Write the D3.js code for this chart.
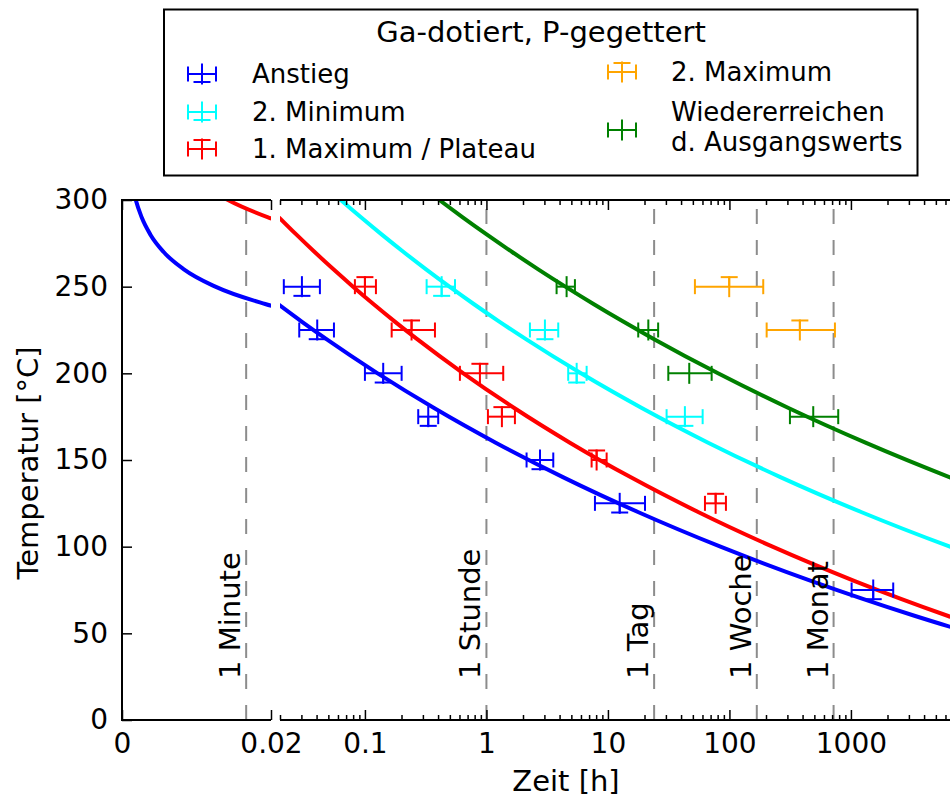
<!DOCTYPE html>
<html>
<head>
<meta charset="utf-8">
<script src="https://cdn.jsdelivr.net/npm/d3@7/dist/d3.min.js"></script>
<style>
  body { margin: 0; background: #fff; }
  svg text { font-family: "DejaVu Sans", sans-serif; fill: #000; }
</style>
</head>
<body>
<svg id="chart" width="950" height="799"></svg>
<script>
// ---- Messpunkte: Temperatur [°C], Zeit [h] (Mitte, untere/obere Grenze) ----
const anstiegT    = [250, 225, 200, 175, 150, 125, 75];
const anstiegH    = [0.0303, 0.0405, 0.1414, 0.332, 2.76, 12.5, 1526];
const anstiegHmin = [0.0215, 0.0288, 0.100, 0.2746, 2.14, 7.82, 1013];
const anstiegHmax = [0.0426, 0.0556, 0.2005, 0.401, 3.55, 20.2, 2229];

const min2T    = [250, 225, 200, 175];
const min2H    = [0.428, 3.03, 5.53, 43.0];
const min2Hmin = [0.322, 2.28, 4.71, 30.4];
const min2Hmax = [0.551, 3.90, 6.68, 60.2];

const max1T    = [250, 225, 200, 175, 150, 125];
const max1H    = [0.100, 0.242, 0.884, 1.341, 8.07, 77.0];
const max1Hmin = [0.0827, 0.166, 0.605, 1.029, 7.34, 62.9];
const max1Hmax = [0.1232, 0.377, 1.375, 1.716, 9.76, 93.6];

const max2T    = [250, 225];
const max2H    = [99.6, 380];
const max2Hmin = [52.0, 202.5];
const max2Hmax = [189.8, 738.6];

const rueckT    = [250, 225, 200, 175];
const rueckH    = [4.57, 21.5, 46.7, 489.6];
const rueckHmin = [3.78, 17.76, 31.4, 314.8];
const rueckHmax = [5.35, 25.9, 71.4, 786];

// Temperaturfehler [°C] nach unten / oben
const tempErrDown = [5.3, 5.3, 0, 0, 0];
const tempErrUp   = [0, 0, 5.5, 5.5, 0];

// ---- Angepasste Kurven: Temperatur [°C] -> Zeit [h] ----
const curveT = [310, 300, 290, 280, 270, 260, 250, 240, 230, 220, 200, 180, 160, 140, 120, 100, 80, 60, 40];
const anstiegCurveH = [0.001313, 0.001851, 0.002640, 0.003816, 0.005590, 0.008307, 0.01253, 0.01922, 0.02997,
                       0.04758, 0.1272, 0.3707, 1.193, 4.300, 17.66, 84.37, 481.3, 3382, 30510];
const max1CurveH    = [0.01044, 0.01423, 0.01961, 0.02733, 0.03856, 0.05510, 0.07987, 0.1174, 0.1753,
                       0.2659, 0.6455, 1.694, 4.863, 15.45, 55.24, 226.3, 1088, 6316, 45890];
const min2CurveH    = [0.04377, 0.06331, 0.09281, 0.1379, 0.2081, 0.3187, 0.4962, 0.7857, 1.267,
                       2.084, 6.002, 18.99, 66.80, 265.4, 1213, 6529, 42510];
const rueckCurveH   = [0.2667, 0.4096, 0.6383, 1.011, 1.628, 2.670, 4.462, 7.606, 13.25,
                       23.60, 80.53, 306.3, 1318, 6531, 38100];

// ---- Zeitmarken ----
const markLabels = ["1 Minute", "1 Stunde", "1 Tag", "1 Woche", "1 Monat"];
const markHours  = [1 / 60, 1, 24, 168, 720];

// ---- Achsenbeschriftung ----
const yTicks = [0, 50, 100, 150, 200, 250, 300];
const linTicks = [0, 0.02];
const linTickLabels = ["0", "0.02"];
const logTicks = [0.1, 1, 10, 100, 1000];
const logTickLabels = ["0.1", "1", "10", "100", "1000"];

const seriesNames  = ["Anstieg", "2. Minimum", "1. Maximum / Plateau", "2. Maximum", "Wiedererreichen|d. Ausgangswerts"];
const seriesColors = ["#0000ff", "#00ffff", "#ff0000", "#ffa500", "#008000"];

// ---------------------------------------------------------------
const svg = d3.select("#chart");
svg.append("rect").attr("width", 950).attr("height", 799).attr("fill", "#fff");

const plotTop = 200, plotBottom = 720, plotLeft = 122, breakL = 271, breakR = 280;
const y = d3.scaleLinear().domain([0, 300]).range([plotBottom, plotTop]);
const xLin = d3.scaleLinear().domain([0, 0.02]).range([plotLeft, breakL]);
const xLog = d3.scaleLog().domain([0.02, 10000]).range([breakR, breakR + 121.5 * Math.log10(10000 / 0.02)]);

const defs = svg.append("defs");
defs.append("clipPath").attr("id", "clipL").append("rect")
  .attr("x", plotLeft).attr("y", plotTop).attr("width", breakL - plotLeft).attr("height", plotBottom - plotTop);
defs.append("clipPath").attr("id", "clipR").append("rect")
  .attr("x", breakR).attr("y", plotTop).attr("width", 720).attr("height", plotBottom - plotTop);

const gL = svg.append("g").attr("clip-path", "url(#clipL)");
const gR = svg.append("g").attr("clip-path", "url(#clipR)");

// dashed time markers
markHours.forEach((h, i) => {
  const isLeft = h < 0.02;
  const xp = isLeft ? xLin(h) : xLog(h);
  (isLeft ? gL : gR).append("line")
    .attr("x1", xp).attr("x2", xp).attr("y1", plotBottom).attr("y2", plotTop)
    .attr("stroke", "#8c8c8c").attr("stroke-width", 2)
    .attr("stroke-dasharray", "15,16");
  svg.append("text")
    .attr("transform", `translate(${xp - 6},679) rotate(-90)`)
    .attr("font-size", 29)
    .text(markLabels[i]);
});

// fitted curves
const curves = [
  {h: anstiegCurveH, c: seriesColors[0]},
  {h: min2CurveH, c: seriesColors[1]},
  {h: max1CurveH, c: seriesColors[2]},
  {h: rueckCurveH, c: seriesColors[4]}
];
curves.forEach(cv => {
  const pts = cv.h.map((h, i) => ({h, t: curveT[i]}));
  const firstOver = pts.findIndex(p => p.h > 0.02);
  const leftPts = firstOver > 0 ? pts.slice(0, firstOver + 1) : [];
  const rightPts = pts.slice(Math.max(0, firstOver - 1));
  if (leftPts.length > 1) {
    gL.append("path")
      .attr("d", d3.line().x(p => xLin(p.h)).y(p => y(p.t)).curve(d3.curveMonotoneX)(leftPts))
      .attr("fill", "none").attr("stroke", cv.c).attr("stroke-width", 4);
  }
  gR.append("path")
    .attr("d", d3.line().x(p => xLog(p.h)).y(p => y(p.t)).curve(d3.curveMonotoneX)(rightPts))
    .attr("fill", "none").attr("stroke", cv.c).attr("stroke-width", 4);
});

// error bar glyph
const CAP = 7.5, PLUS = 10.5;
function glyph(g, cx, cy, x0, x1, yDown, yUp, color) {
  const seg = (a, b, c, d) => g.append("line")
    .attr("x1", a).attr("y1", b).attr("x2", c).attr("y2", d)
    .attr("stroke", color).attr("stroke-width", 2);
  seg(x0, cy, x1, cy);
  seg(x0, cy - CAP, x0, cy + CAP);
  seg(x1, cy - CAP, x1, cy + CAP);
  seg(cx, cy - PLUS, cx, cy + PLUS);
  if (yDown !== cy) { seg(cx, cy, cx, yDown); seg(cx - 8.5, yDown, cx + 8.5, yDown); }
  if (yUp !== cy) { seg(cx, cy, cx, yUp); seg(cx - 8.5, yUp, cx + 8.5, yUp); }
}

const pointSets = [
  [anstiegT, anstiegH, anstiegHmin, anstiegHmax],
  [min2T, min2H, min2Hmin, min2Hmax],
  [max1T, max1H, max1Hmin, max1Hmax],
  [max2T, max2H, max2Hmin, max2Hmax],
  [rueckT, rueckH, rueckHmin, rueckHmax]
];
const gP = svg.append("g").attr("clip-path", "url(#clipR)");
pointSets.forEach((ps, si) => {
  const [T, H, Hmin, Hmax] = ps;
  T.forEach((t, i) => {
    glyph(gP, xLog(H[i]), y(t), xLog(Hmin[i]), xLog(Hmax[i]),
      y(t - tempErrDown[si]), y(t + tempErrUp[si]), seriesColors[si]);
  });
});

// ---- spines and ticks ----
const axisG = svg.append("g");
const spine = (a, b, c, d) => axisG.append("line")
  .attr("x1", a).attr("y1", b).attr("x2", c).attr("y2", d)
  .attr("stroke", "#000").attr("stroke-width", 2);
spine(plotLeft, plotBottom, breakL, plotBottom);
spine(breakR, plotBottom, 960, plotBottom);
spine(plotLeft, plotTop, breakL, plotTop);
spine(breakR, plotTop, 960, plotTop);
spine(plotLeft, plotTop - 1, plotLeft, plotBottom + 1);

function styleAxis(sel) {
  sel.select(".domain").remove();
  sel.selectAll(".tick line").attr("stroke", "#000").attr("stroke-width", 1.5);
  sel.selectAll(".tick text").attr("font-size", 28).attr("font-family", "DejaVu Sans, sans-serif");
}

// bottom axes
axisG.append("g").attr("transform", `translate(0,${plotBottom})`)
  .call(d3.axisBottom(xLin).tickValues(linTicks).tickSize(-10).tickPadding(13)
    .tickFormat((d, i) => linTickLabels[i]))
  .call(styleAxis);
axisG.append("g").attr("transform", `translate(0,${plotBottom})`)
  .call(d3.axisBottom(xLog).tickValues(logTicks).tickSize(-10).tickPadding(13)
    .tickFormat((d, i) => logTickLabels[i]))
  .call(styleAxis);
const minorLog = xLog.ticks().filter(v => !logTicks.some(m => Math.abs(m - v) < 1e-9) && v < 10000);
axisG.append("g").attr("transform", `translate(0,${plotBottom})`)
  .call(d3.axisBottom(xLog).tickValues(minorLog).tickSize(-5).tickFormat(""))
  .call(styleAxis);

// top axes
axisG.append("g").attr("transform", `translate(0,${plotTop})`)
  .call(d3.axisTop(xLin).tickValues(linTicks).tickSize(-10).tickFormat(""))
  .call(styleAxis);
axisG.append("g").attr("transform", `translate(0,${plotTop})`)
  .call(d3.axisTop(xLog).tickValues(logTicks).tickSize(-10).tickFormat(""))
  .call(styleAxis);
axisG.append("g").attr("transform", `translate(0,${plotTop})`)
  .call(d3.axisTop(xLog).tickValues(minorLog).tickSize(-5).tickFormat(""))
  .call(styleAxis);

// left axis
axisG.append("g").attr("transform", `translate(${plotLeft},0)`)
  .call(d3.axisLeft(y).tickValues(yTicks).tickSize(-10).tickPadding(14))
  .call(styleAxis);

// axis titles
svg.append("text").attr("x", 566).attr("y", 791).attr("text-anchor", "middle")
  .attr("font-size", 29).text("Zeit [h]");
svg.append("text").attr("transform", "translate(38,463) rotate(-90)").attr("text-anchor", "middle")
  .attr("font-size", 29).text("Temperatur [°C]");

// ---- legend ----
const lg = svg.append("g");
lg.append("rect").attr("x", 164).attr("y", 9.5).attr("width", 753.5).attr("height", 166)
  .attr("fill", "#fff").attr("stroke", "#000").attr("stroke-width", 2);
lg.append("text").attr("x", 541).attr("y", 42).attr("text-anchor", "middle")
  .attr("font-size", 29).text("Ga-dotiert, P-gegettert");

const legendPos = [
  {mx: 202, my: 74, tx: 252},
  {mx: 202, my: 112, tx: 252},
  {mx: 202, my: 149, tx: 252},
  {mx: 622, my: 72, tx: 671},
  {mx: 622, my: 130, tx: 671}
];
seriesNames.forEach((name, si) => {
  const p = legendPos[si];
  const yD = tempErrDown[si] > 0 ? p.my + 8 : p.my;
  const yU = tempErrUp[si] > 0 ? p.my - 9 : p.my;
  glyph(lg, p.mx, p.my, p.mx - 14, p.mx + 14, yD, yU, seriesColors[si]);
  const lines = name.split("|");
  const t = lg.append("text").attr("x", p.tx).attr("font-size", 26);
  if (lines.length === 1) {
    t.attr("y", p.my + 9).text(name);
  } else {
    t.attr("y", p.my - 9.5);
    lines.forEach((ln, k) => t.append("tspan").attr("x", p.tx).attr("dy", k === 0 ? 0 : 30).text(ln));
  }
});
</script>
</body>
</html>
